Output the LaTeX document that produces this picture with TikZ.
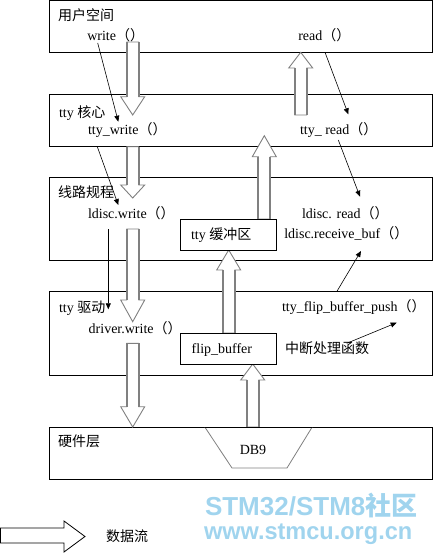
\documentclass[tikz,border=0pt]{standalone}
\usepackage{fontspec}
\setmainfont{Liberation Serif}
\newfontfamily\cjk{Noto Sans CJK SC}
\newfontfamily\wmfont{Liberation Sans}
\usetikzlibrary{arrows.meta}
\definecolor{bgray}{RGB}{128,128,128}
\definecolor{wm}{RGB}{160,212,238}
\newcommand\blockarr[4]{%
  \filldraw[fill=white, draw=bgray, line width=0.9pt, line join=miter]
    ({#1-6},#2) -- ({#1-6},#3) -- ({#1-12},#3) -- (#1,#4) -- ({#1+12},#3) -- ({#1+6},#3) -- ({#1+6},#2) -- cycle;
  \draw[bgray, line width=2pt] ({#1-6},#2) -- ({#1-6},#3) ({#1+6},#2) -- ({#1+6},#3);}
\begin{document}
\begin{tikzpicture}[x=1pt,y=-1pt,
  font=\fontsize{14}{16}\selectfont,
  layer/.style={draw=black, line width=0.9pt, fill=white, inner sep=0, outer sep=0,
    anchor=north west, minimum width=383.5pt},
  smallbox/.style={draw=black, line width=0.9pt, fill=white, inner sep=0, outer sep=0,
    anchor=north west, minimum width=96pt, minimum height=31pt},
  txt/.style={anchor=base west, inner sep=0, outer sep=0},
  conn/.style={-{Triangle[length=6pt,width=5pt]}, line width=0.6pt, black}]
\useasboundingbox (0,0) rectangle (435,554);
% layers
\node[layer, minimum height=51.8pt] (user) at (49,0.5) {};
\node[layer, minimum height=51.7pt] (core) at (49,94.3) {};
\node[layer, minimum height=82.7pt] (ldisc) at (49,177.3) {};
\node[layer, minimum height=83.3pt] (driver) at (49,291.7) {};
\node[layer, minimum height=51.7pt] (hw) at (49,427.3) {};
% block arrows (data flow)
\blockarr{132.7}{42}{96.7}{115}
\blockarr{300.7}{115}{68}{52.3}
\blockarr{132.7}{146.7}{185}{198}
\blockarr{264.3}{219}{156.7}{135.7}
\blockarr{132.7}{229}{300}{321.7}
\blockarr{228.7}{333}{270}{250}
\blockarr{132.7}{343.3}{406.7}{427}
\blockarr{252.7}{427}{380}{364}
% small boxes
\node[smallbox] (ttybuf) at (180,219) {};
\node[smallbox] (flipbuf) at (180,333) {};
% DB9
\filldraw[fill=white, draw=bgray, line width=0.8pt] (205,427.3) -- (232,468) -- (287,468) -- (312,427.3);
\draw[black, line width=0.9pt] (205,427.3) -- (312,427.3);
% texts
\node[txt] (tuser) at (58,20.5) {\cjk 用户空间};
\node[txt] (twrite) at (87.3,40.5) {write{\cjk （）}};
\node[txt] (tread) at (298.3,40.5) {read{\cjk （）}};
\node[txt] (tcore) at (59,117) {tty {\cjk 核心}};
\node[txt] (ttywrite) at (88,134) {tty\_write{\cjk （）}};
\node[txt] (ttyread) at (300,134) {tty\_ read{\cjk （）}};
\node[txt] (tldisc) at (58,197) {\cjk 线路规程};
\node[txt] (ldwrite) at (88,218) {ldisc.write{\cjk （）}};
\node[txt] (ldread) at (302,218) {ldisc. read{\cjk （）}};
\node[txt] (ldrecv) at (284.3,238) {ldisc.receive\_buf{\cjk （）}};
\node[txt] (tttybuf) at (191,239) {tty {\cjk 缓冲区}};
\node[txt] (tdriver) at (59,312) {tty {\cjk 驱动}};
\node[txt] (flippush) at (282,311.5) {tty\_flip\_buffer\_push{\cjk （）}};
\node[txt] (drwrite) at (88.7,333) {driver.write{\cjk （）}};
\node[txt] (tflip) at (191.7,353) {flip\_buffer};
\node[txt] (tirq) at (285,353) {\cjk 中断处理函数};
\node[txt] (thw) at (58,446) {\cjk 硬件层};
\node[anchor=base, inner sep=0] (tdb9) at (253,454) {DB9};
% thin call arrows
\coordinate (a1) at (97.7,43);   \coordinate (a2) at (118.3,121.7);
\coordinate (b1) at (325,52.3);  \coordinate (b2) at (348.3,114.3);
\coordinate (c1) at (97.3,146.7); \coordinate (c2) at (118.3,205);
\coordinate (d1) at (338.3,140); \coordinate (d2) at (360,196.7);
\coordinate (e1) at (108.3,229.3); \coordinate (e2) at (108.3,309.3);
\coordinate (f1) at (336.7,291.7); \coordinate (f2) at (361,251);
\coordinate (g1) at (346.7,343.3); \coordinate (g2) at (396.7,322.7);
\draw[conn] (a1) -- (a2);
\draw[conn] (b1) -- (b2);
\draw[conn] (c1) -- (c2);
\draw[conn] (d1) -- (d2);
\draw[conn] (e1) -- (e2);
\draw[conn] (f1) -- (f2);
\draw[conn] (g1) -- (g2);
% legend
\draw[black, line width=0.8pt, fill=white, line join=miter] (0.5,528) -- (64,528) -- (64,521) -- (85,536.5) -- (64,552) -- (64,543) -- (0.5,543) -- cycle;
\node[txt] (tlegend) at (106,541) {\cjk 数据流};
% watermark
\node[txt, text=wm, text depth=0pt] (wm1) at (205,515.5) {\fontsize{26}{30}\selectfont\wmfont\bfseries STM32/STM8{\cjk\bfseries 社区}};
\node[txt, text=wm, text height=14pt, xscale=0.98] (wm2) at (204,539.5) {\fontsize{24}{30}\selectfont\wmfont\bfseries www.stmcu.org.cn};
\end{tikzpicture}
\end{document}
